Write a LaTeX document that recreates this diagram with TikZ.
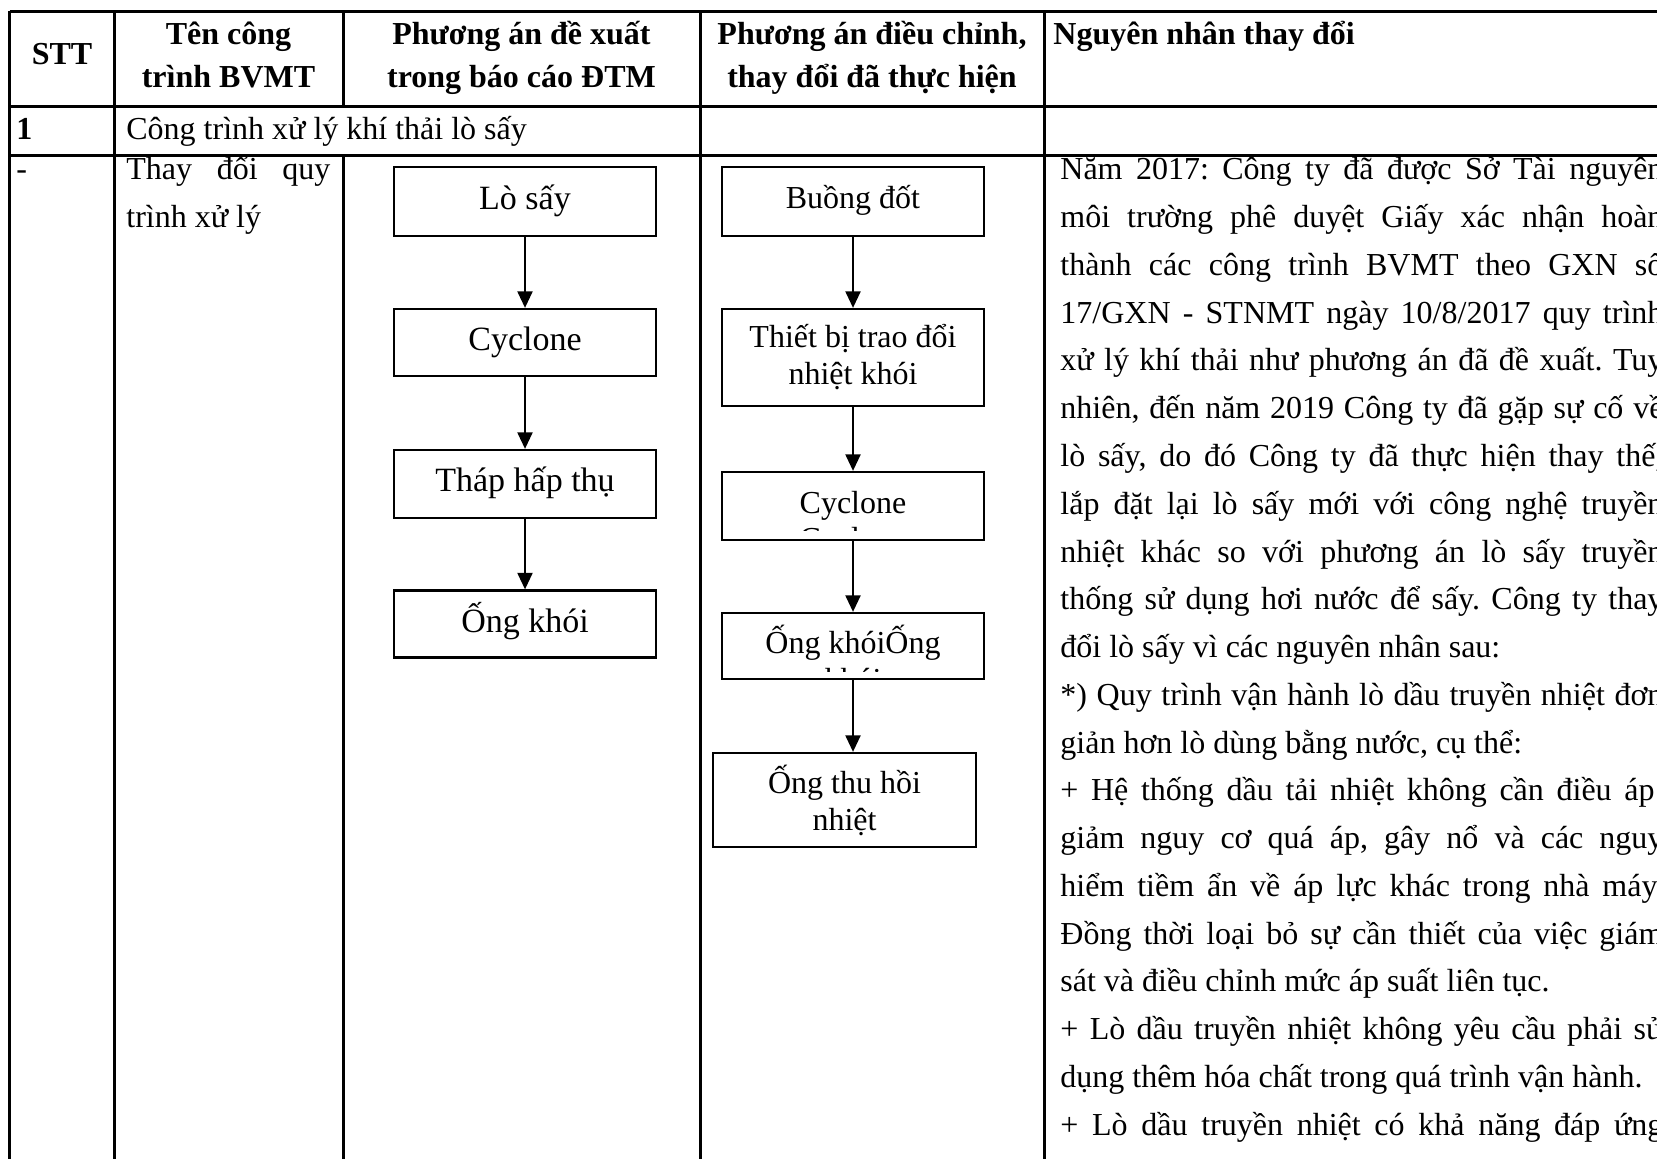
\documentclass[tikz,border=0pt]{standalone}
\usepackage{fontspec}
\setmainfont{Liberation Serif}
\usetikzlibrary{arrows.meta}
\lineskiplimit=-100pt
\frenchspacing
\newcommand{\jl}[1]{\makebox[301.5pt][s]{#1}}
\newcommand{\lf}[1]{#1}
\begin{document}
\begin{tikzpicture}[x=0.5pt,y=-0.5pt,
  tl/.style={line width=1.5pt},
  fb/.style={draw,line width=1.1pt,inner sep=0pt,align=center},
  lbx/.style={fb,minimum width=131pt,font=\fontsize{17}{20}\selectfont,text height=12pt,text depth=4pt},
  rbx/.style={fb,minimum width=131pt,font=\fontsize{16}{18.5}\selectfont,text height=11.5pt,text depth=4pt},
  rbxm/.style={fb,minimum width=131pt,font=\fontsize{16}{18.5}\selectfont},
  arr/.style={line width=1.15pt,-{Triangle[length=8.3pt,width=7.5pt]}},
  hd/.style={font=\fontsize{16}{21.5}\selectfont\bfseries,inner sep=0pt},
  bd/.style={font=\fontsize{16}{24}\selectfont,inner sep=0pt},
]
\useasboundingbox (0,0) rectangle (1657,1159);
\clip (0,0) rectangle (1657,1159);
\fill[white] (0,0) rectangle (1657,1159);
% table grid
\draw[tl] (9.5,11.5) -- (1670,11.5);
\draw[tl] (9.5,107) -- (1670,107);
\draw[tl] (9.5,156) -- (1670,156);
\draw[tl] (9.5,11.5) -- (9.5,1170);
\draw[tl] (114,11.5) -- (114,1170);
\draw[tl] (343,11.5) -- (343,107);
\draw[tl] (343,156) -- (343,1170);
\draw[tl] (700,11.5) -- (700,1170);
\draw[tl] (1044,11.5) -- (1044,1170);
% header
\node[hd,anchor=base] (hstt) at (62,65) {STT};
\node[hd,anchor=base] (h2a) at (228.5,45) {Tên công};
\node[hd,anchor=base] (h2b) at (228.5,88) {trình BVMT};
\node[hd,anchor=base] (h3a) at (521.5,45) {Phương án đề xuất};
\node[hd,anchor=base] (h3b) at (521.5,88) {trong báo cáo ĐTM};
\node[hd,anchor=base] (h4a) at (872,45) {Phương án điều chỉnh,};
\node[hd,anchor=base] (h4b) at (872,88) {thay đổi đã thực hiện};
\node[hd,anchor=base west] (h5) at (1053,45) {Nguyên nhân thay đổi};
% row 1
\node[hd,anchor=base west] (r1n) at (16,140) {1};
\node[bd,anchor=base west] (r1t) at (126,140) {Công trình xử lý khí thải lò sấy};
% row 2
\node[bd,anchor=base west] (r2n) at (16,180) {-};
\node[bd,anchor=base west] (r2a) at (126,180) {\makebox[102pt][s]{Thay đổi quy}};
\node[bd,anchor=base west] (r2b) at (126,228) {trình xử lý};
% left flow
\node[lbx,minimum height=34.5pt] (l1) at (525,201.5) {Lò sấy};
\node[lbx,minimum height=33.5pt] (l2) at (525,342.5) {Cyclone};
\node[lbx,minimum height=34pt] (l3) at (525,484) {Tháp hấp thụ};
\node[lbx,minimum height=33.5pt] (l4) at (525,624) {Ống khói};
\draw[arr] (l1.south) -- (l2.north);
\draw[arr] (l2.south) -- (l3.north);
\draw[arr] (l3.south) -- (l4.north);
% right flow
\node[rbx,minimum height=34.5pt] (q1) at (853,201.5) {Buồng đốt};
\node[rbxm,minimum height=48.5pt] (q2) at (853,357.5) {Thiết bị trao đổi\\nhiệt khói};
\node[rbx,minimum height=34pt] (q3) at (853,506) {Cyclone};
\node[rbx,minimum height=33pt] (q4) at (853,646) {Ống khóiỐng};
\node[rbxm,minimum height=47pt,minimum width=131.5pt] (q5) at (844.5,800) {Ống thu hồi\\nhiệt};
\begin{scope}
\clip (722,472) rectangle (984,531);
\node[rbx,draw=none,anchor=base] (q3x) at (853,550) {Cyclone};
\end{scope}
\begin{scope}
\clip (722,613) rectangle (984,671);
\node[rbx,draw=none,anchor=base] (q4x) at (853,690) {khói};
\end{scope}
\draw[arr] (q1.south) -- (q2.north);
\draw[arr] (q2.south) -- (q3.north);
\draw[arr] (q3.south) -- (q4.north);
\draw[arr] (q4.south) -- (q4.south |- q5.north);
% right column text
\foreach \t [count=\i] in {
 {\jl{Năm 2017: Công ty đã được Sở Tài nguyên}},
 {\jl{môi trường phê duyệt Giấy xác nhận hoàn}},
 {\jl{thành các công trình BVMT theo GXN số}},
 {\jl{17/GXN - STNMT ngày 10/8/2017 quy trình}},
 {\jl{xử lý khí thải như phương án đã đề xuất. Tuy}},
 {\jl{nhiên, đến năm 2019 Công ty đã gặp sự cố về}},
 {\jl{lò sấy, do đó Công ty đã thực hiện thay thế,}},
 {\jl{lắp đặt lại lò sấy mới với công nghệ truyền}},
 {\jl{nhiệt khác so với phương án lò sấy truyền}},
 {\jl{thống sử dụng hơi nước để sấy. Công ty thay}},
 {\lf{đổi lò sấy vì các nguyên nhân sau:}},
 {\jl{*) Quy trình vận hành lò dầu truyền nhiệt đơn}},
 {\lf{giản hơn lò dùng bằng nước, cụ thể:}},
 {\jl{+ Hệ thống dầu tải nhiệt không cần điều áp:}},
 {\jl{giảm nguy cơ quá áp, gây nổ và các nguy}},
 {\jl{hiểm tiềm ẩn về áp lực khác trong nhà máy.}},
 {\jl{Đồng thời loại bỏ sự cần thiết của việc giám}},
 {\lf{sát và điều chỉnh mức áp suất liên tục.}},
 {\jl{+ Lò dầu truyền nhiệt không yêu cầu phải sử}},
 {\lf{dụng thêm hóa chất trong quá trình vận hành.}},
 {\jl{+ Lò dầu truyền nhiệt có khả năng đáp ứng}}
}{
  \node[bd,anchor=base west] (t\i) at (1060,{180+(\i-1)*47.75}) {\t};
}
\end{tikzpicture}
\end{document}
